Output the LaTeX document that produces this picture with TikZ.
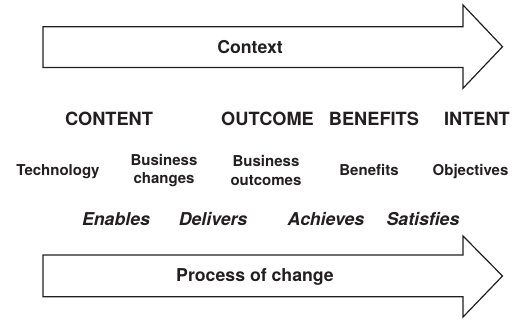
\documentclass[tikz,border=0pt]{standalone}
\usepackage{fontspec}
\setmainfont{TeX Gyre Heros}
\definecolor{ink}{HTML}{231F20}
\begin{document}
\begin{tikzpicture}[x=1pt,y=-1pt,
  bigarrow/.style={draw=ink,line width=1.2pt,fill=white,line join=miter},
  big/.style={font=\fontsize{17.7}{21}\selectfont\bfseries,text=ink,inner sep=0pt,anchor=base},
  head/.style={font=\fontsize{18.2}{21}\selectfont\bfseries,text=ink,inner sep=0pt,anchor=base},
  verb/.style={font=\fontsize{17.7}{21}\selectfont\bfseries\itshape,text=ink,inner sep=0pt,anchor=base},
  small/.style={font=\fontsize{15}{18.3}\selectfont\bfseries,text=ink,inner sep=0pt,align=center}]
\useasboundingbox (0,0) rectangle (521,320);
% Context arrow
\draw[bigarrow] (43,26.7) -- (463,26.7) -- (463,5) -- (502.5,46.7) -- (463,88.3) -- (463,67.5) -- (43,67.5) -- cycle;
\node[big] (context) at (250,53.3) {Context};
% headings
\node[head] (content) at (109,126) {CONTENT};
\node[head] (outcome) at (267.5,126) {OUTCOME};
\node[head] (benefitsH) at (374,126) {BENEFITS};
\node[head] (intent) at (477,126) {INTENT};
% items
\node[small,anchor=base] (tech) at (58,176) {Technology};
\node[small,anchor=center] (bchg) at (164,170.5) {Business\\changes};
\node[small,anchor=center] (bout) at (266,170.5) {Business\\outcomes};
\node[small,anchor=base] (ben) at (369,176) {Benefits};
\node[small,anchor=base] (obj) at (470.5,176) {Objectives};
% verbs
\node[verb] (enables) at (116,225) {Enables};
\node[verb] (delivers) at (213,225) {Delivers};
\node[verb] (achieves) at (326,225) {Achieves};
\node[verb] (satisfies) at (423,225) {Satisfies};
% Process arrow
\draw[bigarrow] (43,255) -- (463,255) -- (463,236) -- (502.5,276) -- (463,317) -- (463,296.7) -- (43,296.7) -- cycle;
\node[big] (process) at (255,281.7) {Process of change};
\end{tikzpicture}
\end{document}
